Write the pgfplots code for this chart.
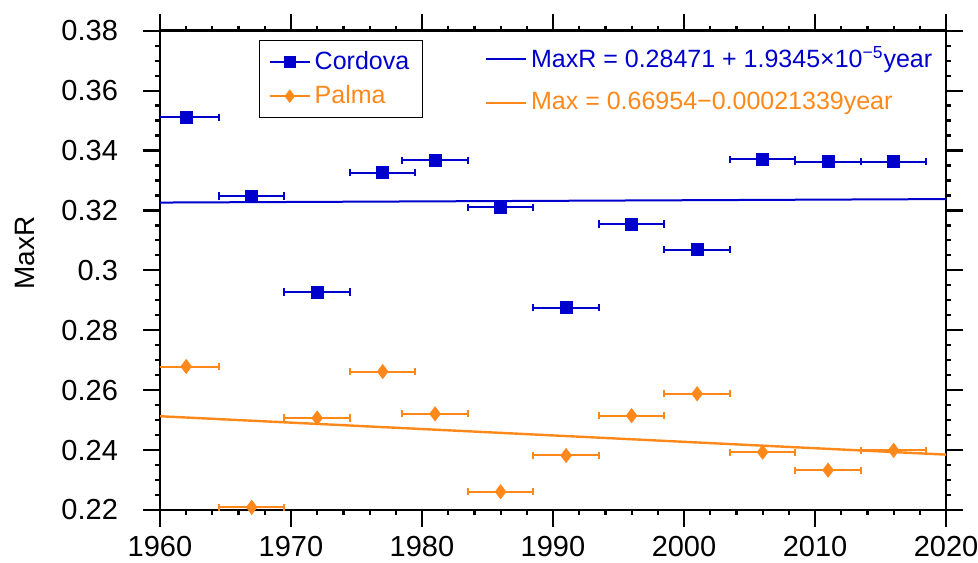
\documentclass[border=0pt]{standalone}
\usepackage{fontspec}
\setmainfont{Liberation Sans}
\usepackage{pgfplots}
\usepackage{pgfplotstable}
\pgfplotsset{compat=1.18}
\definecolor{cordblue}{RGB}{0,0,204}
\definecolor{palmorange}{RGB}{255,136,26}

% MaxR per 5-year window, x error = half window
\pgfplotstableread{
year maxr err
1962 0.3511 2.5
1967 0.3248 2.5
1972 0.2928 2.5
1977 0.3326 2.5
1981 0.3368 2.5
1986 0.3211 2.5
1991 0.2875 2.5
1996 0.3155 2.5
2001 0.3069 2.5
2006 0.3371 2.5
2011 0.3363 2.5
2016 0.3363 2.5
}\cordova

\pgfplotstableread{
year maxr err
1962 0.2679 2.5
1967 0.2209 2.5
1972 0.2507 2.5
1977 0.2662 2.5
1981 0.2521 2.5
1986 0.2261 2.5
1991 0.2382 2.5
1996 0.2515 2.5
2001 0.2588 2.5
2006 0.2393 2.5
2011 0.2333 2.5
2016 0.2399 2.5
}\palma

\begin{document}
\begin{tikzpicture}
\pgfplotsset{
  chartbase/.style={
    width=393pt, height=239.65pt, scale only axis,
    xmin=1960, xmax=2020, ymin=0.22, ymax=0.38,
    at={(0,0)}, anchor=south west,
  },
}
\begin{axis}[chartbase,
  axis line style={line width=1.3pt},
  tick style={line width=1.1pt, black},
  tick align=outside,
  major tick length=8.5pt, minor tick length=2.5pt,
  xtick={1960,1970,1980,1990,2000,2010,2020},
  ytick={0.22,0.24,0.26,0.28,0.3,0.32,0.34,0.36,0.38},
  minor x tick num=4, minor y tick num=3,
  /pgf/number format/1000 sep={},
  /pgf/number format/assume math mode=true,
  tick label style={font=\fontsize{14.5}{16}\selectfont},
  yticklabel style={xshift=-9pt},
  xticklabel style={yshift=-1pt},
  ylabel={MaxR},
  ylabel style={font=\fontsize{14}{16}\selectfont, at={(axis description cs:-0.172,0.536)}, anchor=center},
  clip mode=individual,
  legend style={at={(rel axis cs:0.126,0.981)}, anchor=north west, draw=black, line width=0.7pt,
    font=\fontsize{12.5}{14}\selectfont, row sep=2.5pt, inner xsep=4.5pt, inner ysep=3.5pt},
  legend cell align=left,
  legend image code/.code={\draw[#1] (0pt,0pt) -- (20pt,0pt); \draw[#1, only marks] plot coordinates {(10pt,0pt)};},
]
\addplot[cordblue, only marks, mark=square*, mark size=3pt, mark options={solid, line width=0.4pt},
  forget plot,
  error bars/.cd, x dir=both, x explicit, error mark=|,
  error bar style={line width=1pt},
  error mark options={mark size=1.8pt, line width=1pt}]
  table[x=year, y=maxr, x error=err] {\cordova};
\addplot[palmorange, only marks, mark=diamond*, mark size=3.5pt, mark options={solid, line width=0.4pt},
  forget plot,
  error bars/.cd, x dir=both, x explicit, error mark=|,
  error bar style={line width=1pt},
  error mark options={mark size=1.8pt, line width=1pt}]
  table[x=year, y=maxr, x error=err] {\palma};
\addlegendimage{cordblue, line width=1pt, mark=square*, mark size=2.6pt}
\addlegendentry{\textcolor{cordblue}{Cordova}}
\addlegendimage{palmorange, line width=1pt, mark=diamond*, mark size=2.6pt}
\addlegendentry{\textcolor{palmorange}{Palma}}
\end{axis}

\begin{axis}[chartbase, hide axis,
  legend style={at={(rel axis cs:0.405,0.984)}, anchor=north west, draw=none, fill=none,
    font=\fontsize{12.5}{14}\selectfont, row sep=7pt},
  legend cell align=left,
  legend image code/.code={\draw[#1] (0pt,0pt) -- (20pt,0pt);},
]
\addplot[cordblue, line width=1pt] coordinates {(1960,0.32263) (2020,0.32379)};
\addlegendentry{\textcolor{cordblue}{MaxR = 0.28471 + 1.9345×10\textsuperscript{−5}year}}
\addplot[palmorange, line width=1.2pt] coordinates {(1960,0.25130) (2020,0.23849)};
\addlegendentry{\textcolor{palmorange}{Max = 0.66954−0.00021339year}}
\end{axis}

\pgfresetboundingbox
\path[use as bounding box] (-80pt,-26pt) rectangle (409pt,255pt);
\end{tikzpicture}
\end{document}
